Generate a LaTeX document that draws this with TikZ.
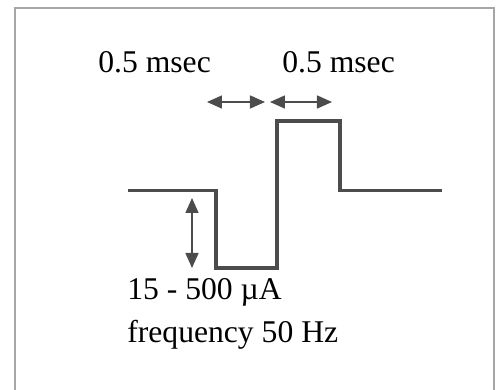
\documentclass[tikz,border=0pt]{standalone}
\usepackage{fontspec}
\setmainfont{Liberation Serif}
\usetikzlibrary{arrows.meta}
\tikzset{
  framebox/.style={gray!70, line width=0.6pt},
  pulse/.style={black!70, line width=2.2pt, line join=miter},
  spanarrow/.style={{Triangle[length=3mm,width=2.6mm]}-{Triangle[length=3mm,width=2.6mm]}, black!70, line width=0.9pt},
  label/.style={anchor=base west, inner sep=0pt, font=\fontsize{18}{20}\selectfont},
}

\begin{document}
\begin{tikzpicture}
    \useasboundingbox (0,0) rectangle (10.06,-7.8);
    % ---------------- frame ----------------
    \draw[framebox] (0.3,-7.8) -- (0.3,-0.16) -- (9.88,-0.16) -- (9.88,-7.8);
    % ---------------- biphasic pulse ----------------
    \draw[pulse] (2.56,-3.81) -- (4.32,-3.81) -- (4.32,-5.36) -- (5.54,-5.36)
      -- (5.54,-2.42) -- (6.80,-2.42) -- (6.80,-3.81) -- (8.84,-3.81);
    % ---------------- spans ----------------
    \coordinate (w1a) at (4.14,-2.04);
    \coordinate (w1b) at (5.30,-2.04);
    \coordinate (w2a) at (5.40,-2.04);
    \coordinate (w2b) at (6.64,-2.04);
    \coordinate (amptop) at (3.84,-3.96);
    \coordinate (ampbot) at (3.84,-5.36);
    \draw[spanarrow] (w1a) -- (w1b);
    \draw[spanarrow] (w2a) -- (w2b);
    \draw[spanarrow] (amptop) -- (ampbot);
    % ---------------- labels ----------------
    \node[label] (width1) at (1.96,-1.46) {0.5 msec};
    \node[label] (width2) at (5.64,-1.46) {0.5 msec};
    \node[label] (amp) at (2.54,-6.0) {15 - 500 µA};
    \node[label] (freq) at (2.54,-6.86) {frequency 50 Hz};
\end{tikzpicture}
\end{document}
